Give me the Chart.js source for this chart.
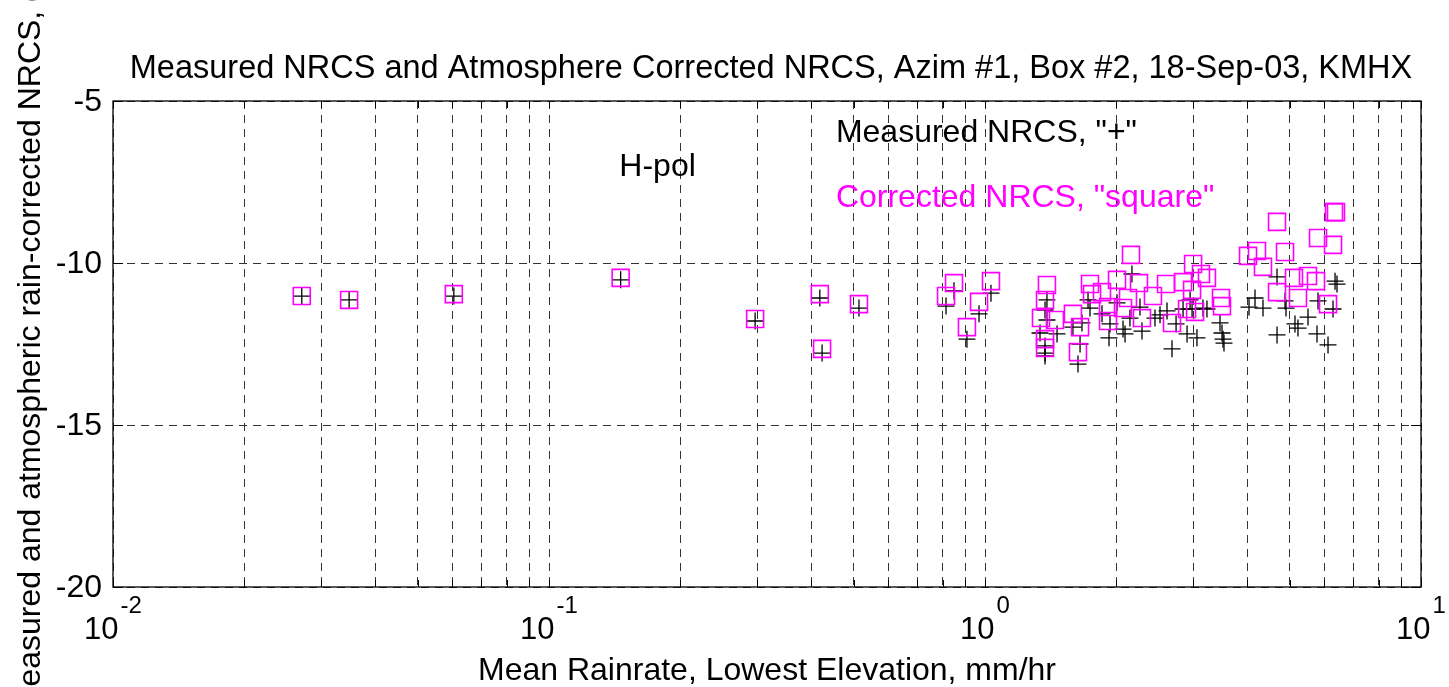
<!DOCTYPE html>
<html>
<head>
<meta charset="utf-8">
<script src="https://cdn.jsdelivr.net/npm/chart.js@4"></script>
<style>
  body { margin: 0; background: #fff; }
</style>
</head>
<body>
<canvas id="myChart" width="1449" height="687"></canvas>
<script>
// valori (rainrate mm/hr, NRCS dB)
const measuredX = [0.0271, 0.0348, 0.0605, 0.146, 0.297, 0.418, 0.423, 0.514, 0.814, 0.849, 0.969, 0.909, 1.032,
  1.387, 1.373, 1.387, 1.337, 1.463, 1.373, 1.373, 1.373, 1.723, 1.741, 1.591, 1.669, 1.652, 1.634,
  1.855, 1.935, 1.925, 2.008, 2.073, 2.150, 2.095, 2.173, 2.267, 2.291, 2.454, 2.520, 2.615, 2.685, 2.743,
  2.846, 2.907, 3.063, 2.954, 2.985, 3.162, 3.229, 3.459, 3.496, 3.515, 3.533, 4.032, 4.162, 4.341, 4.675,
  4.877, 4.902, 5.140, 5.222, 5.506, 4.675, 5.774, 6.120, 5.805, 6.284, 6.351, 6.417];
const measuredY = [-11.02, -11.14, -11.02, -10.52, -11.79, -11.08, -12.78, -11.39, -11.33, -10.86, -11.57, -12.35, -10.93,
  -11.14, -11.45, -11.76, -12.16, -12.19, -12.56, -12.78, -12.87, -11.14, -11.39, -11.98, -11.85, -12.50, -13.12,
  -11.57, -11.88, -12.31, -11.23, -12.04, -11.70, -12.19, -10.34, -11.36, -12.10, -11.70, -11.60, -11.48, -12.65, -11.88,
  -11.42, -12.19, -12.31, -11.14, -11.42, -11.39, -11.42, -11.85, -12.16, -12.35, -12.47, -11.36, -11.08, -11.39, -10.43,
  -11.17, -11.39, -11.88, -12.01, -11.67, -12.22, -12.19, -12.53, -11.17, -11.42, -10.56, -10.65];

const correctedX = [0.0271, 0.0348, 0.0605, 0.146, 0.297, 0.418, 0.423, 0.514, 0.814, 0.849, 0.969, 0.909, 1.032,
  1.387, 1.373, 1.344, 1.447, 1.373, 1.373, 1.591, 1.652, 1.634, 1.741, 1.760, 1.855, 1.915, 1.915,
  2.008, 2.162, 2.073, 2.128, 2.255, 2.291, 2.428, 2.601, 2.685, 2.846, 3.001, 3.129, 3.229, 2.985, 2.907, 3.033,
  3.477, 3.496, 4.011, 4.206, 4.341, 4.675, 4.877, 4.675, 5.113, 5.222, 5.506, 5.744, 5.805, 6.284, 6.383, 6.317, 6.120];
const correctedY = [-11.02, -11.14, -10.96, -10.46, -11.73, -10.96, -12.65, -11.27, -11.02, -10.62, -11.20, -11.98, -10.56,
  -10.68, -11.14, -11.70, -11.76, -12.35, -12.62, -11.57, -11.98, -12.75, -10.65, -10.96, -10.90, -11.36, -11.79,
  -10.52, -9.75, -11.39, -11.08, -10.62, -11.70, -11.02, -10.65, -11.85, -10.59, -10.03, -10.34, -10.46, -10.83, -11.42, -11.51,
  -11.08, -11.33, -9.78, -9.63, -10.12, -8.73, -9.66, -10.90, -10.46, -11.08, -10.40, -10.56, -9.23, -9.44, -8.43, -8.43, -11.27];

// assi
const xTickValues = [0.01, 0.02, 0.03, 0.04, 0.05, 0.06, 0.07, 0.08, 0.09,
  0.1, 0.2, 0.3, 0.4, 0.5, 0.6, 0.7, 0.8, 0.9,
  1, 2, 3, 4, 5, 6, 7, 8, 9, 10];
const xMajor = [0.01, 0.1, 1, 10];
const xMajorExp = ['-2', '-1', '0', '1'];
const yTickValues = [-20, -15, -10, -5];

// testi
const titolo = 'Measured NRCS and Atmosphere Corrected NRCS, Azim #1, Box #2, 18-Sep-03, KMHX';
const etichettaX = 'Mean Rainrate, Lowest Elevation, mm/hr';
const etichettaY = 'Measured and atmospheric rain-corrected NRCS, dB';
const noteTesto = ['H-pol', 'Measured NRCS, "+"', 'Corrected NRCS, "square"'];
const noteX = [0.145, 0.455, 0.455];
const noteY = [-7.05, -6.0, -8.0];
const noteColore = ['#000', '#000', '#ff00ff'];

const FONT = '"Liberation Sans", Arial, sans-serif';

const toPoints = (xs, ys) => xs.map((v, i) => ({ x: v, y: ys[i] }));

const matlabAxes = {
  id: 'matlabAxes',
  afterDraw(chart) {
    const ctx = chart.ctx;
    const a = chart.chartArea;
    const sx = chart.scales.x;
    const sy = chart.scales.y;
    ctx.save();

    // cornice
    ctx.strokeStyle = '#000';
    ctx.lineWidth = 1.3;
    ctx.setLineDash([]);
    ctx.strokeRect(a.left, a.top, a.right - a.left, a.bottom - a.top);

    // tacche interne
    ctx.lineWidth = 1;
    ctx.beginPath();
    xTickValues.forEach(v => {
      const px = Math.round(sx.getPixelForValue(v)) + 0.5;
      ctx.moveTo(px, a.bottom); ctx.lineTo(px, a.bottom - 7);
      ctx.moveTo(px, a.top); ctx.lineTo(px, a.top + 7);
    });
    yTickValues.forEach(v => {
      const py = Math.round(sy.getPixelForValue(v)) + 0.5;
      ctx.moveTo(a.left, py); ctx.lineTo(a.left + 10, py);
      ctx.moveTo(a.right, py); ctx.lineTo(a.right - 10, py);
    });
    ctx.stroke();

    ctx.fillStyle = '#000';

    // etichette asse y
    ctx.font = '32px ' + FONT;
    ctx.textAlign = 'right';
    ctx.textBaseline = 'middle';
    yTickValues.forEach(v => {
      ctx.fillText(String(v), a.left - 11, sy.getPixelForValue(v) + 1);
    });

    // etichette asse x, 10 con esponente
    ctx.textBaseline = 'alphabetic';
    ctx.textAlign = 'left';
    xMajor.forEach((v, i) => {
      const px = sx.getPixelForValue(v);
      ctx.font = '31px ' + FONT;
      const w1 = ctx.measureText('10').width;
      ctx.font = '24px ' + FONT;
      const w2 = ctx.measureText(xMajorExp[i]).width;
      const x0 = px - (w1 + w2 + 2) / 2;
      ctx.font = '31px ' + FONT;
      ctx.fillText('10', x0, 639);
      ctx.font = '24px ' + FONT;
      ctx.fillText(xMajorExp[i], x0 + w1 + 2, 613);
    });

    // titolo e nomi assi
    ctx.textAlign = 'center';
    ctx.font = '32.5px ' + FONT;
    ctx.fillText(titolo, (a.left + a.right) / 2 + 4, 78);
    ctx.font = '32px ' + FONT;
    ctx.fillText(etichettaX, (a.left + a.right) / 2, 680);

    ctx.save();
    ctx.translate(40, 338);
    ctx.rotate(-Math.PI / 2);
    ctx.fillText(etichettaY, 0, 0);
    ctx.restore();

    // note dentro il grafico
    ctx.textAlign = 'left';
    ctx.textBaseline = 'middle';
    ctx.font = '32px ' + FONT;
    noteTesto.forEach((t, i) => {
      ctx.fillStyle = noteColore[i];
      ctx.fillText(t, sx.getPixelForValue(noteX[i]), sy.getPixelForValue(noteY[i]));
    });

    ctx.restore();
  }
};

const ctx = document.getElementById('myChart');

new Chart(ctx, {
  type: 'scatter',
  data: {
    datasets: [{
      label: 'Corrected NRCS',
      data: toPoints(correctedX, correctedY),
      pointStyle: 'rect',
      pointRadius: 12,
      borderColor: '#ff00ff',
      backgroundColor: 'rgba(0,0,0,0)',
      borderWidth: 1.6
    }, {
      label: 'Measured NRCS',
      data: toPoints(measuredX, measuredY),
      pointStyle: 'cross',
      pointRadius: 8.5,
      borderColor: '#000',
      borderWidth: 1.3
    }]
  },
  options: {
    responsive: false,
    animation: false,
    events: [],
    layout: { padding: { left: 113, right: 28, top: 101, bottom: 100 } },
    plugins: { legend: { display: false }, tooltip: { enabled: false } },
    scales: {
      x: {
        type: 'logarithmic',
        min: 0.01,
        max: 10,
        afterBuildTicks: s => { s.ticks = xTickValues.map(v => ({ value: v })); },
        afterFit: s => { s.height = 0; },
        ticks: { display: false },
        grid: { color: '#333', lineWidth: 1, drawTicks: false },
        border: { display: false, dash: [8, 6] }
      },
      y: {
        min: -20,
        max: -5,
        afterBuildTicks: s => { s.ticks = yTickValues.map(v => ({ value: v })); },
        afterFit: s => { s.width = 0; },
        ticks: { display: false },
        grid: { color: '#333', lineWidth: 1, drawTicks: false },
        border: { display: false, dash: [8, 6] }
      }
    }
  },
  plugins: [matlabAxes]
});
</script>
</body>
</html>
